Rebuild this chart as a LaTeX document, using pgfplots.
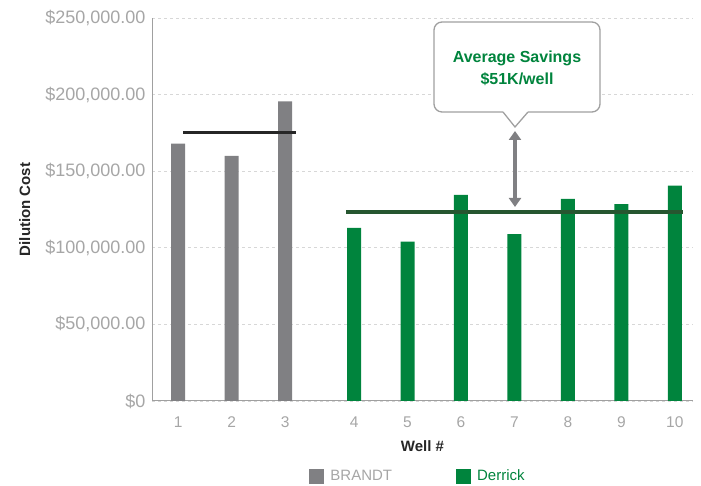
\documentclass[border=0pt]{standalone}
\usepackage{fontspec}
\setmainfont{Liberation Sans}
\usepackage{pgfplots}
\pgfplotsset{compat=1.18}
\usetikzlibrary{arrows.meta}
\definecolor{bargray}{RGB}{128,128,131}
\definecolor{bargreen}{RGB}{0,132,61}
\definecolor{linegreen}{RGB}{38,86,48}
\definecolor{ticklab}{RGB}{166,166,166}
\definecolor{gridc}{RGB}{215,215,215}
\definecolor{axisc}{RGB}{160,160,160}
\definecolor{callgray}{RGB}{160,160,160}
\definecolor{arrowgray}{RGB}{128,128,131}

\begin{document}
\begin{tikzpicture}[x=1pt,y=1pt]
\useasboundingbox (0,0) rectangle (701,486);
\begin{axis}[
  at={(152pt,85pt)}, anchor=south west,
  scale only axis, width=541pt, height=383pt,
  xmin=0.51, xmax=10.63, ymin=0, ymax=250000,
  scaled y ticks=false,
  axis x line*=bottom, axis y line*=left,
  axis line style={axisc, line width=1pt, -},
  ybar, bar width=14pt, bar shift=0pt,
  ytick={0,50000,100000,150000,200000,250000},
  yticklabels={{\$0},{\$50,000.00},{\$100,000.00},{\$150,000.00},{\$200,000.00},{\$250,000.00}},
  xtick={1,2,3,4.29,5.29,6.29,7.29,8.29,9.29,10.29},
  xticklabels={1,2,3,4,5,6,7,8,9,10},
  major tick length=0pt,
  ymajorgrids,
  grid style={gridc, line width=0.8pt, dash pattern=on 3pt off 3pt},
  yticklabel style={font=\fontsize{18}{18}\selectfont, text=ticklab, xshift=-3pt},
  xticklabel style={font=\fontsize{15.5}{15.5}\selectfont, text=ticklab, yshift=-12pt},
  xlabel={Well \#},
  xlabel style={font=\bfseries\fontsize{15}{15}\selectfont, text=black!85, yshift=-6pt},
  ylabel={Dilution Cost},
  ylabel style={font=\bfseries\fontsize{15}{15}\selectfont, text=black!85,
    at={(axis description cs:-0.235,0.5)}, anchor=center},
  legend image code/.code={\fill[#1] (0pt,-7.5pt) rectangle (15pt,7.5pt); \path (19pt,0pt);},
  legend style={at={(axis description cs:0.4917,-0.196)}, anchor=center, draw=none,
    font=\fontsize{15}{15}\selectfont,
    /tikz/every even column/.append style={column sep=62pt}},
  legend columns=2,
]
\addplot[fill=bargray, draw=none] coordinates {(1,168000) (2,160000) (3,195500)};
\addlegendentry{\textcolor{ticklab}{BRANDT}}
\addplot[fill=bargreen, draw=none] coordinates {(4.29,113000) (5.29,104000) (6.29,134500) (7.29,109000) (8.29,132000) (9.29,128500) (10.29,140500)};
\addlegendentry{\textcolor{bargreen}{Derrick}}
\addplot[sharp plot, draw=black!85, line width=3pt, forget plot] coordinates {(1.093,175000) (3.206,175000)};
\addplot[sharp plot, draw=linegreen, line width=3.5pt, forget plot] coordinates {(4.14,123400) (10.44,123400)};
\end{axis}
% callout
\draw[callgray, line width=1.3pt, rounded corners=8pt, fill=white]
  (503,374) -- (434,374) -- (434,464) -- (600,464) -- (600,374) -- (528,374);
\fill[white] (503,374.65) -- (528,374.65) -- (515,359) -- cycle;
\draw[callgray, line width=1.3pt, line join=miter] (528,374) -- (515,359) -- (503,374);
\node[font=\bfseries\fontsize{16}{22}\selectfont, text=bargreen, align=center] at (517,418) {Average Savings\\\$51K/well};
\draw[arrowgray, line width=3.5pt, {Triangle[width=12pt,length=9pt]}-{Triangle[width=12pt,length=9pt]}] (515,355) -- (515,279);
\end{tikzpicture}
\end{document}
